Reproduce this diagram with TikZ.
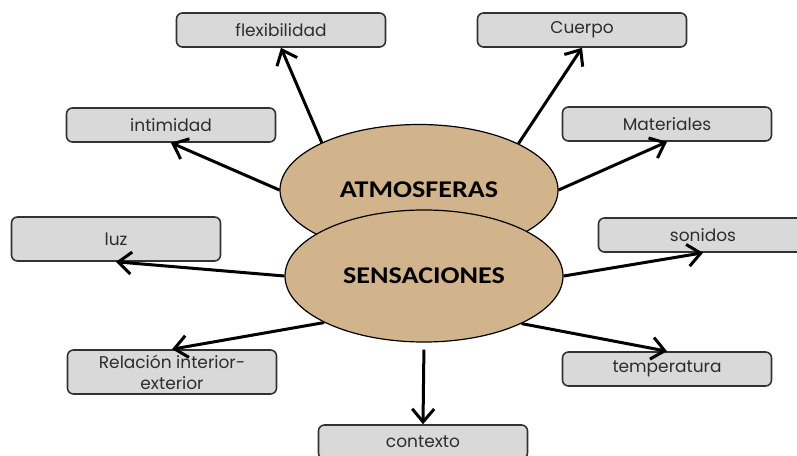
\documentclass[tikz,border=0pt]{standalone}
\usepackage{fontspec}
\setmainfont{Poppins}
\newfontfamily\boldfam[FakeStretch=1.17]{Carlito}
\usetikzlibrary{arrows.meta,shapes.geometric}
\definecolor{ovalfill}{RGB}{210,180,140}
\definecolor{boxfill}{RGB}{217,217,217}
\definecolor{boxline}{RGB}{50,50,50}
\definecolor{boxtext}{RGB}{45,45,45}
\tikzset{
  topic/.style={rectangle,rounded corners=6pt,draw=boxline,line width=1.6pt,fill=boxfill,
    minimum width=209pt,minimum height=34pt,inner sep=0pt,align=center,
    text=boxtext,font=\fontsize{17}{21}\selectfont},
  core/.style={ellipse,draw=black,line width=1.2pt,fill=ovalfill,
    minimum width=278pt,minimum height=131pt,inner sep=0pt,
    font=\boldfam\bfseries\fontsize{24}{26}\selectfont},
  link/.style={line width=3pt,-{Straight Barb[length=13pt,width=22pt]}}
}

\begin{document}
\begin{tikzpicture}[x=1pt,y=-1pt]
      \useasboundingbox (0,0) rectangle (797,455);

      \node[topic] (flex) at (281,30) {flexibilidad};
      \node[topic] (body) at (582,30) {Cuerpo};
      \node[topic] (intim) at (171,125) {intimidad};
      \node[topic] (mat) at (667,124) {Materiales};
      \node[topic,minimum height=44pt] (light) at (116,239) {luz};
      \node[topic] (sound) at (703,235) {sonidos};
      \node[topic,minimum height=44pt] (rel) at (172,372) {Relación interior-\\exterior};
      \node[topic] (temp) at (667,369) {temperatura};
      \node[topic] (ctx) at (423,442) {contexto};

      \node[core] (atm) at (419,190) {ATMOSFERAS};
      \node[core,minimum height=132pt] (sens) at (424,276) {SENSACIONES};

      \draw[link] (atm.154.6) -- (flex.south);
      \draw[link] (atm.25.6) -- (body.south);
      \draw[link] (atm.180) -- (intim.south);
      \draw[link] (atm.0) -- (mat.south);
      \draw[link] (sens.180) -- (light.south);
      \draw[link] (sens.0) -- (sound.south);
      \draw[link] (sens.205.2) -- (rel.north);
      \draw[link] (sens.334) -- (temp.north);
      \draw[link,shorten <=7pt] (sens.south) -- (ctx.north);

    \end{tikzpicture}
\end{document}
